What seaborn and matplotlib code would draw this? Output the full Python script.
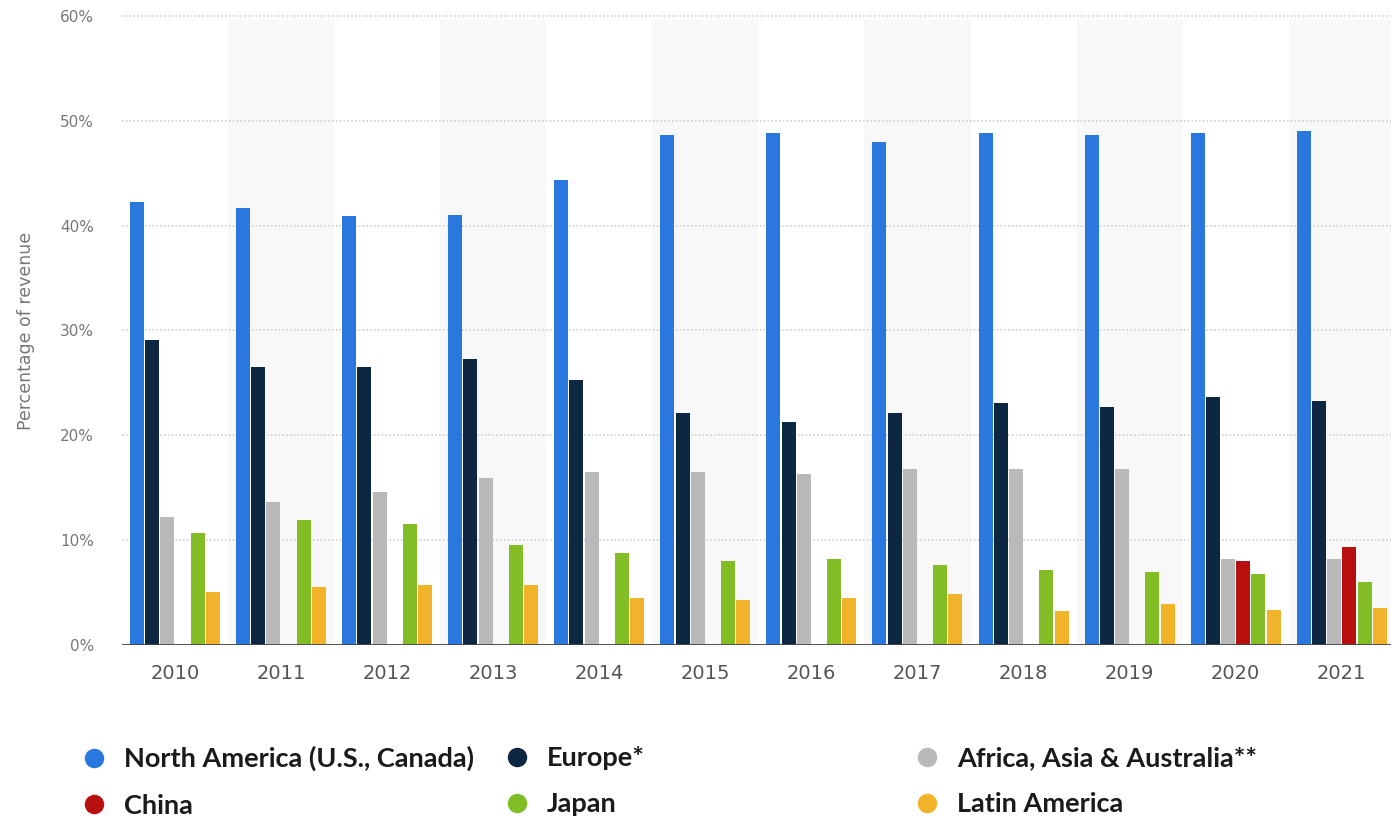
import numpy as np
import pandas as pd
import matplotlib
matplotlib.use("Agg")
import matplotlib.pyplot as plt
from matplotlib.lines import Line2D
import seaborn as sns

years = ["2010", "2011", "2012", "2013", "2014", "2015",
         "2016", "2017", "2018", "2019", "2020", "2021"]

regions = ["North America (U.S., Canada)", "Europe*", "Africa, Asia & Australia**",
           "China", "Japan", "Latin America"]

north_america = [42.3, 41.7, 40.9, 41.0, 44.4, 48.6, 48.8, 48.0, 48.8, 48.6, 48.8, 49.0]
europe = [29.1, 26.5, 26.5, 27.3, 25.3, 22.1, 21.3, 22.1, 23.1, 22.7, 23.7, 23.3]
africa_asia_australia = [12.2, 13.6, 14.6, 15.9, 16.5, 16.5, 16.3, 16.8, 16.8, 16.8, 8.2, 8.2]
china = [None, None, None, None, None, None, None, None, None, None, 8.0, 9.3]
japan = [10.7, 11.9, 11.5, 9.5, 8.8, 8.0, 8.2, 7.6, 7.2, 7.0, 6.8, 6.0]
latin_america = [5.1, 5.5, 5.7, 5.7, 4.5, 4.3, 4.5, 4.9, 3.2, 3.9, 3.3, 3.5]

colors = ["#2a77de", "#0e2741", "#b9b9b9", "#b8100f", "#82bd25", "#f0b329"]

series = [north_america, europe, africa_asia_australia, china, japan, latin_america]
rows = []
for region, vals in zip(regions, series):
    for year, v in zip(years, vals):
        if v is not None:
            rows.append({"year": year, "region": region, "share": v})
df = pd.DataFrame(rows)

sns.set_theme(style="white")
plt.rcParams["font.family"] = ["DejaVu Sans"]

fig = plt.figure(figsize=(13.91, 8.18), dpi=100)
ax = fig.add_axes([0.0877, 0.2115, 0.915, 0.769])

# alternating column shading, stopping just under the top gridline
for i in range(len(years)):
    if i % 2 == 1:
        ax.fill_between([i - 0.5, i + 0.5], 0, 59.6, color="#f8f8f8", zorder=0, lw=0)

sns.barplot(data=df, x="year", y="share", hue="region", order=years,
            hue_order=regions, palette=colors, saturation=1, width=0.86, gap=0.08,
            errorbar=None, legend=False, ax=ax, zorder=3, linewidth=0)

ax.set_xlim(-0.5, len(years) - 0.5)
ax.set_ylim(0, 60)
ax.set_yticks([0, 10, 20, 30, 40, 50, 60])
ax.set_yticklabels([f"{t}%" for t in [0, 10, 20, 30, 40, 50, 60]])
for t in [10, 20, 30, 40, 50, 60]:
    ax.axhline(t, color="#c8c8c8", lw=1.1, ls=(0, (1, 1.5)), zorder=1, clip_on=False)
ax.axhline(0, color="#444444", lw=2, zorder=4)

for s in ax.spines.values():
    s.set_visible(False)
ax.tick_params(axis="both", length=0)
ax.tick_params(axis="x", pad=14, labelsize=14, labelcolor="#555555")
ax.tick_params(axis="y", pad=20, labelsize=11, labelcolor="#777777")
ax.set_xlabel("")
ax.set_ylabel("Percentage of revenue", fontsize=12.5, color="#777777", labelpad=18)

# legend, three columns of two entries
legend_font = {"family": ["Lato", "DejaVu Sans"], "weight": "bold", "size": 19.5}
cols = [(0, 3, 0.058), (1, 4, 0.362), (2, 5, 0.657)]
for a, b, xpos in cols:
    handles = [Line2D([], [], marker="o", ls="", markersize=13, color=colors[k]) for k in (a, b)]
    leg = fig.legend(handles, [regions[a], regions[b]], loc="upper left",
                     bbox_to_anchor=(xpos, 0.088), frameon=False, prop=legend_font,
                     handletextpad=0.6, labelspacing=0.82, handlelength=1.0,
                     borderaxespad=0, borderpad=0)
    for txt in leg.get_texts():
        txt.set_color("#1a1a1a")

fig.savefig("out.png", dpi=100)
